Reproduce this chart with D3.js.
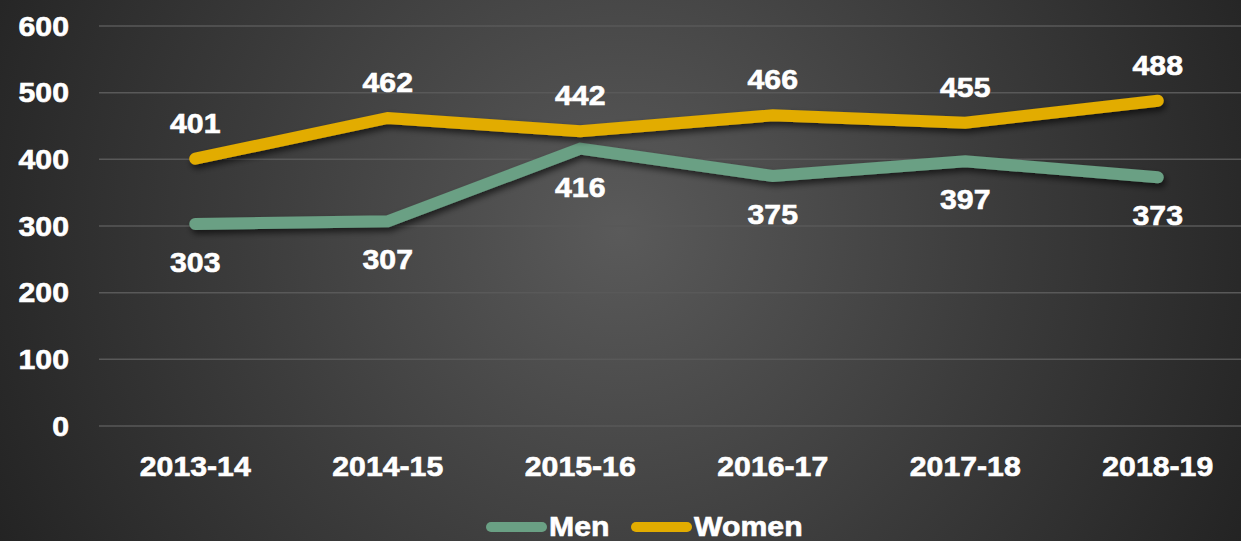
<!DOCTYPE html>
<html><head><meta charset="utf-8">
<script src="https://cdn.jsdelivr.net/npm/d3@7"></script>
<style>html,body{margin:0;padding:0;background:#2a2a2a;overflow:hidden}</style>
</head><body><svg id="c" width="1241" height="541"></svg>
<script>
const years = ["2013-14","2014-15","2015-16","2016-17","2017-18","2018-19"];
const men = [303,307,416,375,397,373];
const women = [401,462,442,466,455,488];
const yTicks = [0,100,200,300,400,500,600];
const seriesNames = ["Men","Women"];
const colors = ["#6aa084","#e2ac00"];

const svg = d3.select("#c");
const W = 1241, H = 541;
const defs = svg.append("defs");
const rg = defs.append("radialGradient").attr("id","bg").attr("gradientUnits","userSpaceOnUse")
  .attr("cx",620).attr("cy",230).attr("r",700);
rg.append("stop").attr("offset","0").attr("stop-color","#5a5a5a");
rg.append("stop").attr("offset","0.55").attr("stop-color","#3b3b3b");
rg.append("stop").attr("offset","1").attr("stop-color","#232323");
const f = defs.append("filter").attr("id","sh").attr("x","-10%").attr("y","-50%").attr("width","120%").attr("height","200%");
f.append("feDropShadow").attr("dx",2).attr("dy",4).attr("stdDeviation",3).attr("flood-color","#000").attr("flood-opacity",0.6);

svg.append("rect").attr("width",W).attr("height",H).attr("fill","url(#bg)");

const x = d3.scalePoint().domain(years).range([99,1254]).padding(0.5);
const y = d3.scaleLinear().domain([0,600]).range([426,26]);

const FS = 27, SX = 1.12;
function txt(g, s, tx, ty, anchor){
  return g.append("text").attr("transform",`translate(${tx},${ty}) scale(${SX},1)`)
    .attr("text-anchor",anchor).attr("fill","#fff").attr("stroke","#fff").attr("stroke-width",0.6)
    .attr("font-family","'Liberation Sans', Arial, sans-serif").attr("font-weight","bold")
    .attr("font-size",FS).text(s);
}

// grid
const grid = svg.append("g");
grid.selectAll("line").data(yTicks).join("line")
  .attr("x1",99).attr("x2",1254).attr("y1",d=>y(d)).attr("y2",d=>y(d))
  .attr("stroke","#595959").attr("stroke-width",1.5);

// y axis labels
const ya = svg.append("g");
yTicks.forEach(t=>txt(ya, t, 69, y(t)+9.5, "end"));
// x axis labels
const xa = svg.append("g");
years.forEach(c=>txt(xa, c, x(c), 476, "middle"));

// lines
const line = d3.line().x((d,i)=>x(years[i])).y(d=>y(d));
[men,women].forEach((s,k)=>{
  svg.append("path").datum(s).attr("d",line).attr("fill","none")
    .attr("stroke",colors[k]).attr("stroke-width",12).attr("stroke-linecap","round")
    .attr("stroke-linejoin","miter").attr("filter","url(#sh)");
});

// data labels
const lab = svg.append("g");
men.forEach((v,i)=>txt(lab, v, x(years[i]), y(v)+48, "middle"));
women.forEach((v,i)=>txt(lab, v, x(years[i]), y(v)-26, "middle"));

// legend
const lg = svg.append("g");
const legX = [486, 631];
seriesNames.forEach((n,k)=>{
  lg.append("line").attr("x1",legX[k]+5).attr("x2",legX[k]+56).attr("y1",527).attr("y2",527)
    .attr("stroke",colors[k]).attr("stroke-width",10).attr("stroke-linecap","round");
  txt(lg, n, legX[k]+63, 536, "start");
});
</script></body></html>
